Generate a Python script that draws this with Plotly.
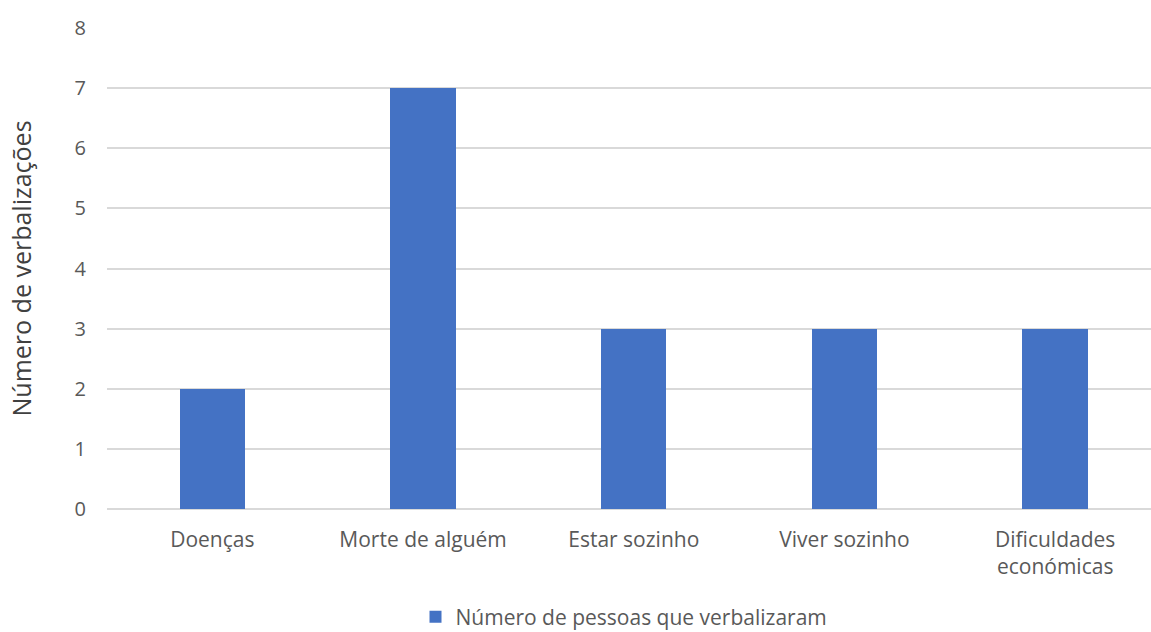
import plotly.graph_objects as go

categories = ["Doenças", "Morte de alguém", "Estar sozinho", "Viver sozinho", "Dificuldades<br>económicas"]
values = [2, 7, 3, 3, 3]
series_name = "Número de pessoas que verbalizaram"
y_ticks = [0, 1, 2, 3, 4, 5, 6, 7, 8]

W, H = 1151, 632
ml, mr, mt, mb = 107, 0, 28, 123
plot_w = W - ml - mr
plot_h = H - mt - mb
unit = 210.7
xmax = -0.5 + plot_w / unit
bar_color = "#4472C4"

fig = go.Figure()
fig.add_trace(go.Bar(
    x=list(range(len(categories))), y=values, name=series_name,
    marker=dict(color=bar_color, line=dict(width=0)), width=0.31,
    showlegend=False,
))
# legend entry with a larger square swatch
fig.add_trace(go.Scatter(
    x=[None], y=[None], mode="markers", name=series_name,
    marker=dict(symbol="square", size=20, color=bar_color),
    showlegend=True, hoverinfo="skip",
))

font_fam = "Open Sans, sans-serif"
fig.update_layout(
    width=W, height=H,
    margin=dict(l=ml, r=mr, t=mt, b=mb, pad=0, autoexpand=False),
    paper_bgcolor="white", plot_bgcolor="white",
    font=dict(family=font_fam, size=20, color="#595959"),
    showlegend=True,
    legend=dict(orientation="h", x=(624 - ml) / plot_w, xanchor="center",
                y=-(617 - (mt + plot_h)) / plot_h, yanchor="middle",
                font=dict(size=21, color="#595959"),
                itemsizing="constant", itemwidth=30, tracegroupgap=0),
    xaxis=dict(
        tickmode="array", tickvals=list(range(len(categories))), ticktext=categories,
        range=[-0.5, xmax], showgrid=False, zeroline=False, showline=False,
        ticks="", ticklabelstandoff=16, automargin=False,
        tickfont=dict(size=21, color="#595959"),
    ),
    yaxis=dict(
        range=[0, 8], tickvals=y_ticks, showgrid=True, gridcolor="#d9d9d9", gridwidth=1.5,
        zeroline=True, zerolinecolor="#d9d9d9", zerolinewidth=1.5, showline=False,
        ticks="", ticklabelstandoff=20, automargin=False,
        tickfont=dict(size=20, color="#595959"),
    ),
    bargap=0,
)
fig.add_annotation(
    text="Número de verbalizações", textangle=-90,
    xref="paper", yref="paper", x=(20 - ml) / plot_w, y=0.5,
    xanchor="center", yanchor="middle", showarrow=False,
    font=dict(family=font_fam, size=25, color="#404040"),
)

fig.write_html("out.html")
